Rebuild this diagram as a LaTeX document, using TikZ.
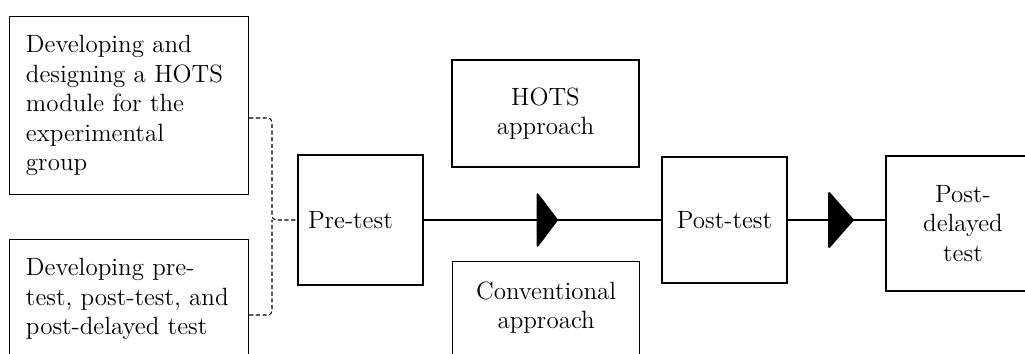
\documentclass[tikz,border=0pt]{standalone}
\usetikzlibrary{positioning,arrows.meta,decorations.markings}

\begin{document}
\begin{tikzpicture}[x=0.48pt, y=-0.48pt,
    font=\fontsize{12}{14.2}\selectfont,
    box/.style={draw, rectangle, line width=0.6pt, inner sep=0pt},
    prep/.style={box, anchor=north west, minimum width=114.7pt, text width=99pt, inner xsep=7.85pt, align=left},
    flow/.style={line width=1pt},
    bracket/.style={dash pattern=on 2pt off 1.2pt, line width=0.5pt, rounded corners=2pt}]

    \useasboundingbox (0,0) rectangle (1025,354);

    % Preparation
    \node[prep, minimum height=85.4pt] (devA) at (9,16)
        {Developing and\\designing a HOTS\\module for the\\experimental\\group};
    \node[prep, minimum height=57.1pt] (devB) at (9,239)
        {Developing pre-\\test, post-test, and\\post-delayed test};

    % Tests
    \node[box, minimum width=60pt, minimum height=62.4pt, text width=50.4pt, inner xsep=4.8pt, align=left] (pretest) at (360.5,220) {Pre-test};
    \node[box, minimum width=60pt, minimum height=60.5pt, align=center] (posttest) at (724.5,220) {Post-test};
    \node[box, minimum width=73.9pt, minimum height=64.8pt, align=center] (postdel) at (963,223.5) {Post-\\delayed\\test};

    % Approaches
    \node[box, minimum width=89.8pt, minimum height=51.4pt, align=center] (hots) at (545.5,113.5) {HOTS\\approach};
    \node[box, anchor=north west, minimum width=89.8pt, minimum height=52.8pt] (conv) at (452,261) {};
    \node[inner sep=0pt, align=center, below=9.6pt of conv.north] (convtext) {Conventional\\approach};

    % Bracket
    \coordinate (brk) at (272,220);
    \draw[bracket] (devA.east |- 0,118) -| (brk) -- (pretest.west);
    \draw[bracket] (devB.east |- 0,315) -| (brk);

    % Flow
    \draw[flow, postaction={decorate}, decoration={markings, mark=at position 0.565 with {\arrow{Triangle[length=10.4pt, width=27.4pt, round]}}}]
        (pretest.east) -- (posttest.west);
    \draw[flow, postaction={decorate}, decoration={markings, mark=at position 0.677 with {\arrow{Triangle[length=12.5pt, width=28.3pt, round]}}}]
        (posttest.east) -- (postdel.west |- posttest.east);
\end{tikzpicture}
\end{document}
